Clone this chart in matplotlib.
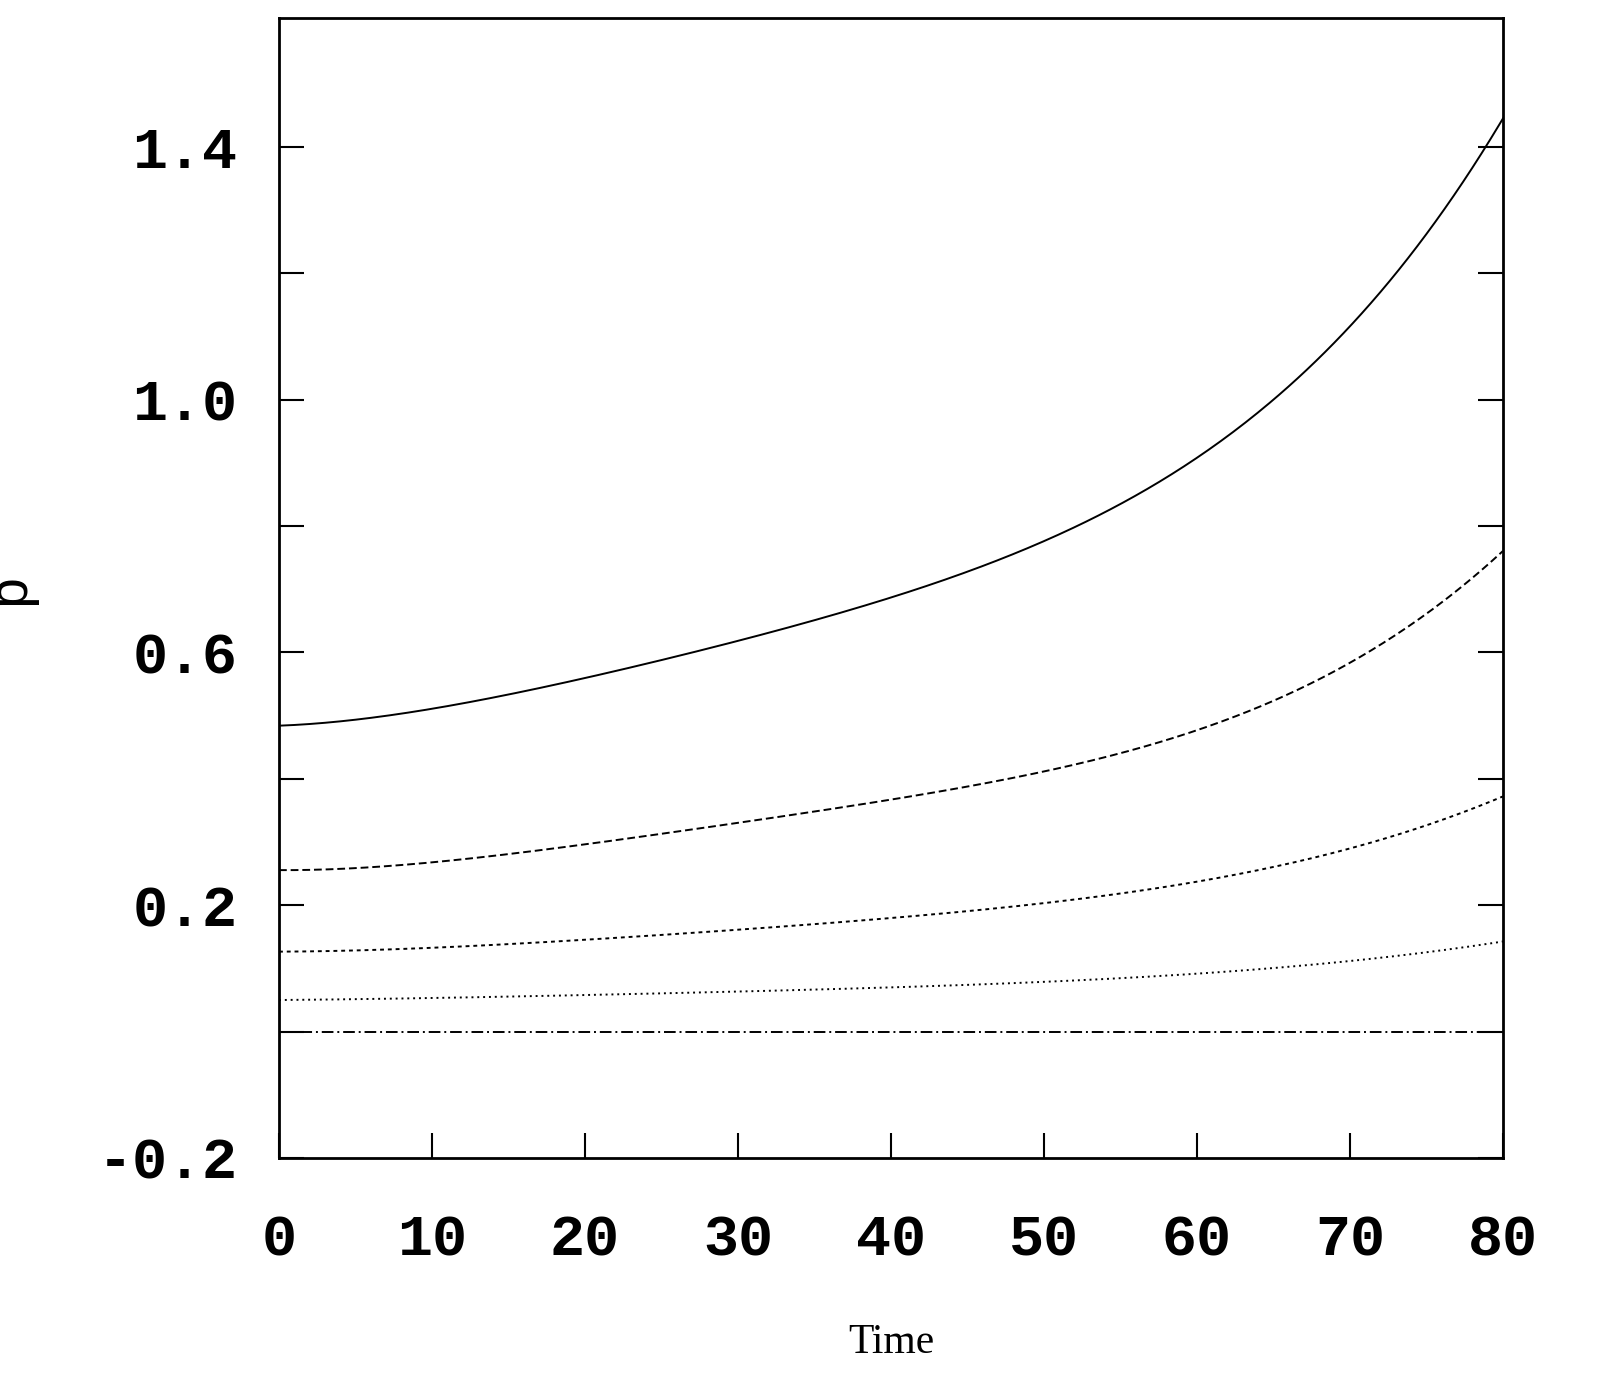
import numpy as np
import matplotlib.pyplot as plt

time = [0, 10, 20, 30, 40, 50, 60, 70, 80]
p_solid = [0.482, 0.517, 0.556, 0.615, 0.688, 0.778, 0.912, 1.11, 1.447]
p_dashed = [0.254, 0.272, 0.295, 0.327, 0.366, 0.417, 0.477, 0.58, 0.762]
p_short = [0.126, 0.134, 0.145, 0.16, 0.18, 0.203, 0.24, 0.287, 0.373]
p_dotted = [0.05, 0.053, 0.058, 0.064, 0.069, 0.078, 0.094, 0.11, 0.143]
p_dashdot = [0.0, 0.0, 0.0, 0.0, 0.0, 0.0, 0.0, 0.0, 0.0]

fig = plt.figure(figsize=(15.97, 13.73), dpi=100)
ax = fig.add_axes([0.1747, 0.1566, 0.7664, 0.8303])

tt = np.linspace(0, 80, 400)
for y, ls in [(p_solid, '-'), (p_dashed, (0, (4, 2))), (p_short, (0, (2, 2))),
              (p_dotted, (0, (1, 2))), (p_dashdot, (0, (6, 2, 1, 2)))]:
    # smooth fit through the values
    coef = np.polyfit(time, y, 4)
    ax.plot(tt, np.polyval(coef, tt), color='black', lw=1.4, linestyle=ls)

ax.set_xlim(0, 80)
ax.set_ylim(-0.2, 1.604)
ax.set_xticks(range(0, 81, 10))
ax.set_yticks([-0.2, 0, 0.2, 0.4, 0.6, 0.8, 1.0, 1.2, 1.4])
ax.set_yticklabels(['-0.2', '', '0.2', '', '0.6', '', '1.0', '', '1.4'])
ax.tick_params(direction='in', length=18, width=1.5, top=False, right=True,
               labelsize=42)
ax.tick_params(axis='x', pad=40)
ax.tick_params(axis='y', pad=30)
for lab in ax.get_xticklabels() + ax.get_yticklabels():
    lab.set_family('Liberation Mono')
    lab.set_weight('bold')
for s in ax.spines.values():
    s.set_linewidth(2)
ax.set_xlabel('Time', family='Liberation Serif', fontsize=30, labelpad=40)
ax.set_ylabel('p', family='Liberation Mono', fontsize=40, labelpad=45)

fig.savefig('out.png')
